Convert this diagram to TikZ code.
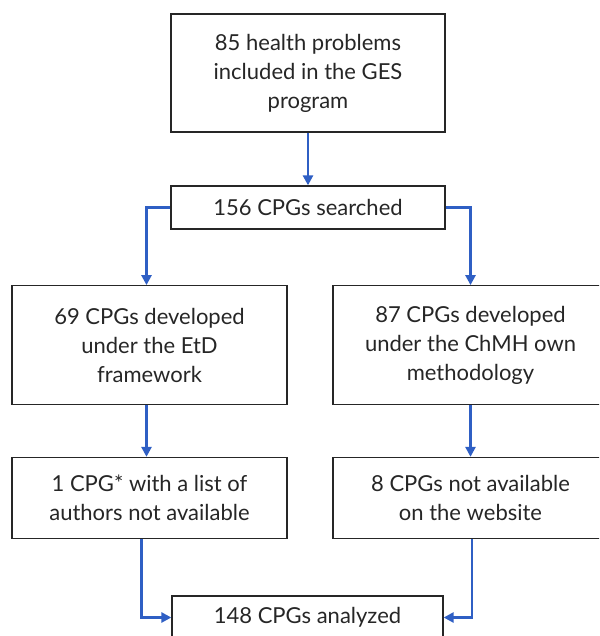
\documentclass[tikz,border=0pt]{standalone}
\usepackage{fontspec}
\setmainfont{Lato}
\usetikzlibrary{arrows.meta}
\definecolor{arrowblue}{RGB}{47,95,196}
\tikzset{
  box/.style={draw=black!85, line width=1.3pt, align=center, inner sep=0pt,
    font=\fontsize{22}{29}\selectfont, text=black!85},
  conn/.style={draw=arrowblue, line width=2.6pt,
    -{Triangle[width=10pt,length=10pt]}}
}
\begin{document}
\begin{tikzpicture}[x=1pt,y=-1pt]
\useasboundingbox (0,0) rectangle (599,636);
\clip (0,0) rectangle (599,636);
\node[box, minimum width=274pt, minimum height=118pt] (top) at (308,73) {85 health problems\\included in the GES\\program};
\node[box, minimum width=274pt, minimum height=43pt] (srch) at (308,207.5) {156 CPGs searched};
\node[box, minimum width=275pt, minimum height=118.5pt] (l2) at (149.5,345) {69 CPGs developed\\under the EtD\\framework};
\node[box, minimum width=275pt, minimum height=118.5pt] (r2) at (470.5,345) {87 CPGs developed\\under the ChMH own\\methodology};
\node[box, minimum width=275pt, minimum height=81pt] (l3) at (149.5,498) {1 CPG* with a list of\\authors not available};
\node[box, minimum width=275pt, minimum height=81pt] (r3) at (470.5,498) {8 CPGs not available\\on the website};
\node[box, minimum width=271pt, minimum height=43pt] (bot) at (307.5,617.5) {148 CPGs analyzed};
\draw[conn] (top.south) -- (srch.north);
\draw[conn] (srch.west) -| ([xshift=-3pt]l2.north);
\draw[conn] (srch.east) -| (r2.north);
\draw[conn] ([xshift=-3pt]l2.south) -- ([xshift=-3pt]l3.north);
\draw[conn] (r2.south) -- (r3.north);
\draw[conn] ([xshift=-8pt]l3.south) |- (bot.west);
\draw[conn] ([xshift=1.5pt]r3.south) |- (bot.east);
\end{tikzpicture}
\end{document}
